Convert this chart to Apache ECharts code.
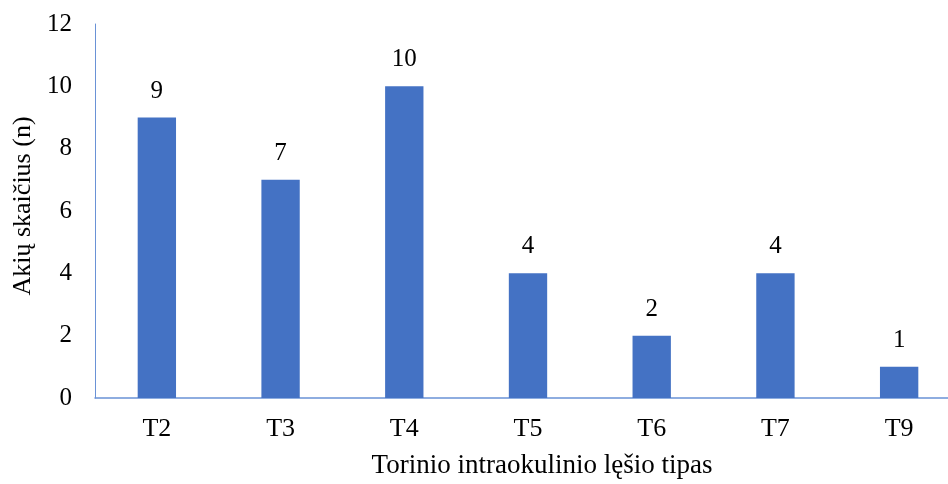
<!DOCTYPE html>
<html><head><meta charset="utf-8">
<script src="https://cdn.jsdelivr.net/npm/echarts@6/dist/echarts.min.js"></script>
<style>html,body{margin:0;padding:0;background:#fff;overflow:hidden}#c{width:975px;height:484px}</style>
</head><body><div id="c"></div>
<script>
const categories = ['T2','T3','T4','T5','T6','T7','T9'];
const values = [9, 7, 10, 4, 2, 4, 1];
const yTitle = 'Akių skaičius (n)';
const xTitle = 'Torinio intraokulinio lęšio tipas';
const font = '"Liberation Serif", "Times New Roman", serif';
const chart = echarts.init(document.getElementById('c'));
chart.setOption({
  animation: false,
  grid: {left: 95, top: 24, width: 866, height: 376, containLabel: false},
  xAxis: {
    type: 'category', data: categories,
    axisLine: {lineStyle: {color: '#6A92D6', width: 1.5}},
    axisTick: {show: false},
    axisLabel: {color: '#000', fontFamily: font, fontSize: 26, margin: 18},
    name: xTitle, nameLocation: 'middle', nameGap: 54,
    nameTextStyle: {color: '#000', fontFamily: font, fontSize: 27, padding: [0, 0, 0, 28]}
  },
  yAxis: {
    type: 'value', min: 0, max: 12, interval: 2,
    axisLine: {show: true, lineStyle: {color: '#6A92D6', width: 1}},
    axisTick: {show: false},
    splitLine: {show: false},
    axisLabel: {color: '#000', fontFamily: font, fontSize: 25, margin: 23},
    name: yTitle, nameLocation: 'middle', nameGap: 51,
    nameTextStyle: {color: '#000', fontFamily: font, fontSize: 26, padding: [0, 0, 0, 10]}
  },
  series: [{
    type: 'bar', data: values, barWidth: '31%',
    itemStyle: {color: '#4472C4'},
    label: {show: true, position: 'top', distance: 14, color: '#000', fontFamily: font, fontSize: 25}
  }]
});
</script></body></html>
